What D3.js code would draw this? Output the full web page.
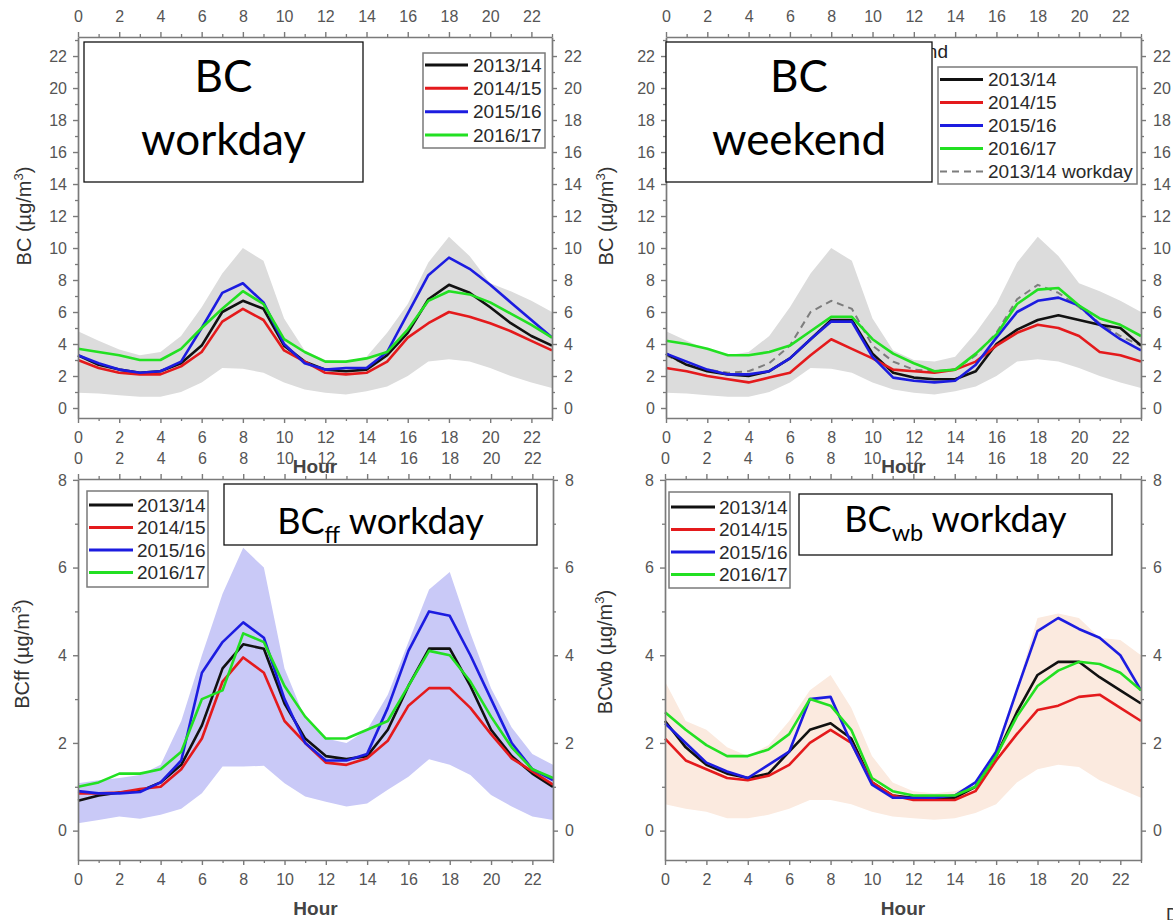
<!DOCTYPE html>
<html>
<head>
<meta charset="utf-8">
<script src="https://cdn.jsdelivr.net/npm/d3@7"></script>
<style>
  html, body { margin: 0; padding: 0; background: #fff; }
  svg { display: block; }
</style>
</head>
<body>
<svg id="fig" width="1173" height="920"></svg>
<script>
// ---- categories / ticks ----
const hours = [0,1,2,3,4,5,6,7,8,9,10,11,12,13,14,15,16,17,18,19,20,21,22,23];
const hourTicks = [0,2,4,6,8,10,12,14,16,18,20,22];
const hourMinor = [1,3,5,7,9,11,13,15,17,19,21,23];
const bcTicks = [0,2,4,6,8,10,12,14,16,18,20,22];
const bcMinor = [1,3,5,7,9,11,13,15,17,19,21,23];
const partTicks = [0,2,4,6,8];
const partMinor = [1,3,5,7];
const seasons = ["2013/14","2014/15","2015/16","2016/17"];

// ---- BC, workday (µg/m3) ----
const bcWorkday1314 = [3.3,2.7,2.4,2.2,2.3,2.8,3.9,6.0,6.7,6.2,3.9,2.9,2.4,2.3,2.4,3.3,4.7,6.8,7.7,7.2,6.3,5.3,4.5,3.9];
const bcWorkday1415 = [3.0,2.5,2.2,2.1,2.1,2.6,3.5,5.4,6.2,5.5,3.6,2.9,2.2,2.1,2.2,2.9,4.4,5.3,6.0,5.7,5.3,4.8,4.2,3.6];
const bcWorkday1516 = [3.3,2.8,2.4,2.2,2.3,2.9,5.0,7.2,7.8,6.6,4.0,2.8,2.4,2.5,2.5,3.5,5.9,8.3,9.4,8.7,7.7,6.6,5.5,4.4];
const bcWorkday1617 = [3.7,3.5,3.3,3.0,3.0,3.7,5.0,6.2,7.3,6.5,4.3,3.5,2.9,2.9,3.1,3.5,4.9,6.7,7.3,7.1,6.6,5.9,5.2,4.4];
// spread of BC (shaded range)
const bcRangeLow  = [0.95,0.9,0.8,0.7,0.7,1.0,1.6,2.5,2.45,2.2,1.6,1.15,0.95,0.85,1.05,1.35,2.0,2.9,3.05,2.9,2.5,2.0,1.6,1.25];
const bcRangeHigh = [4.8,4.2,3.65,3.3,3.5,4.5,6.3,8.4,10.0,9.2,5.6,3.6,3.0,2.9,3.2,4.7,6.5,9.1,10.7,9.5,7.8,7.3,6.7,6.0];

// ---- BC, weekend (µg/m3) ----
const bcWeekend1314 = [3.4,2.7,2.3,2.1,2.0,2.3,3.1,4.3,5.5,5.5,3.4,2.2,1.9,1.8,1.8,2.3,4.0,4.9,5.5,5.8,5.5,5.2,5.0,3.9];
const bcWeekend1415 = [2.5,2.3,2.0,1.8,1.6,1.9,2.2,3.3,4.3,3.7,3.1,2.4,2.3,2.2,2.4,2.9,3.9,4.7,5.2,5.0,4.5,3.5,3.3,2.9];
const bcWeekend1516 = [3.4,2.9,2.4,2.1,2.1,2.3,3.1,4.3,5.4,5.4,3.2,1.9,1.7,1.6,1.7,2.7,4.4,6.0,6.7,6.9,6.4,5.2,4.3,3.6];
const bcWeekend1617 = [4.2,4.0,3.7,3.3,3.3,3.5,3.9,4.8,5.7,5.7,4.3,3.4,2.8,2.3,2.4,3.4,4.6,6.5,7.4,7.5,6.4,5.6,5.2,4.5];

// ---- BCff, workday (µg/m3) ----
const ffWorkday1314 = [0.68,0.8,0.87,0.9,1.1,1.5,2.4,3.7,4.25,4.15,2.9,2.1,1.7,1.63,1.7,2.3,3.3,4.15,4.15,3.3,2.3,1.7,1.3,1.0];
const ffWorkday1415 = [0.85,0.85,0.87,0.95,1.0,1.4,2.1,3.4,3.95,3.6,2.5,2.0,1.55,1.5,1.65,2.05,2.85,3.25,3.25,2.8,2.2,1.65,1.35,1.05];
const ffWorkday1516 = [0.9,0.85,0.85,0.88,1.1,1.6,3.6,4.3,4.75,4.4,3.0,2.0,1.6,1.6,1.75,2.8,4.1,5.0,4.9,4.0,3.0,2.0,1.4,1.15];
const ffWorkday1617 = [1.0,1.1,1.3,1.3,1.4,1.8,3.0,3.2,4.5,4.3,3.3,2.6,2.1,2.1,2.3,2.5,3.3,4.1,4.0,3.4,2.6,1.9,1.4,1.2];
const ffRangeLow  = [0.17,0.24,0.32,0.27,0.36,0.5,0.85,1.46,1.46,1.48,1.08,0.78,0.66,0.55,0.62,0.93,1.23,1.63,1.5,1.27,0.81,0.55,0.32,0.24];
const ffRangeHigh = [1.08,1.15,1.2,1.27,1.5,2.5,4.0,5.4,6.45,6.0,3.7,2.55,2.1,2.0,2.3,3.1,4.3,5.5,5.9,4.5,3.25,2.35,1.75,1.5];

// ---- BCwb, workday (µg/m3) ----
const wbWorkday1314 = [2.5,1.9,1.5,1.3,1.2,1.3,1.8,2.3,2.45,2.1,1.1,0.8,0.75,0.75,0.75,1.0,1.7,2.7,3.55,3.85,3.85,3.5,3.2,2.9];
const wbWorkday1415 = [2.1,1.6,1.4,1.2,1.15,1.25,1.5,2.0,2.3,2.0,1.1,0.8,0.7,0.7,0.7,0.9,1.6,2.2,2.75,2.85,3.05,3.1,2.8,2.5];
const wbWorkday1516 = [2.45,2.0,1.55,1.35,1.2,1.5,1.8,3.0,3.05,2.0,1.05,0.75,0.75,0.75,0.8,1.1,1.8,3.2,4.55,4.85,4.6,4.4,4.0,3.2];
const wbWorkday1617 = [2.7,2.3,1.95,1.7,1.7,1.85,2.2,3.0,2.85,2.3,1.2,0.9,0.8,0.8,0.8,1.0,1.7,2.6,3.3,3.65,3.85,3.8,3.6,3.2];
const wbRangeLow  = [0.6,0.5,0.43,0.28,0.28,0.36,0.5,0.7,0.7,0.6,0.43,0.32,0.28,0.25,0.28,0.4,0.6,1.1,1.4,1.5,1.45,1.15,0.95,0.75];
const wbRangeHigh = [3.4,2.5,2.3,1.9,1.7,1.95,2.5,3.2,3.55,2.8,1.7,1.1,0.9,0.85,0.9,1.05,1.9,3.25,4.85,4.95,4.85,4.4,4.35,4.0];

// ---- styling ----
const seasonColors = ["#111111", "#e41a1c", "#1c1ce0", "#22e022"];
const AXIS_FONT = "'Liberation Sans', Arial, Helvetica, sans-serif";
const BOX_FONT = "Lato, 'Open Sans', 'Noto Sans', sans-serif";
const AXIS_COLOR = "#7a7a7a";
const LABEL_COLOR = "#555";

const svg = d3.select("#fig");

const panels = [
  {
    left: 78, right: 552, top: 37, bottom: 418,
    yDomain: [-0.625, 23.19], yTicks: bcTicks, yMinor: bcMinor,
    series: [bcWorkday1314, bcWorkday1415, bcWorkday1516, bcWorkday1617],
    rangeLow: bcRangeLow, rangeHigh: bcRangeHigh, rangeFill: "#dcdcdc",
    yTitle: "BC", yTitleX: 31, yTitleY: 216,
    xTitleY: 473,
    legend: { x0: 423, x1: 545, y0: 53, y1: 148, rows: [65, 88.3, 111.7, 135], lineX: [425, 468], textX: 473 },
    box: { x0: 84, x1: 363, y0: 42, y1: 182, lines: [["BC", 92], ["workday", 155]], size: 44 }
  },
  {
    left: 666, right: 1141, top: 37, bottom: 418,
    yDomain: [-0.625, 23.19], yTicks: bcTicks, yMinor: bcMinor,
    series: [bcWeekend1314, bcWeekend1415, bcWeekend1516, bcWeekend1617],
    reference: bcWorkday1314,
    rangeLow: bcRangeLow, rangeHigh: bcRangeHigh, rangeFill: "#dcdcdc",
    yTitle: "BC", yTitleX: 613, yTitleY: 216,
    xTitleY: 473,
    hiddenTitle: { text: "BC weekend", x: 948, y: 58 },
    legend: { x0: 938, x1: 1137, y0: 67, y1: 184, rows: [79.5, 102.5, 125.5, 148.5, 171.5], lineX: [940, 983], textX: 988 },
    box: { x0: 666, x1: 932, y0: 42, y1: 182, lines: [["BC", 92], ["weekend", 155]], size: 44 }
  },
  {
    left: 78, right: 553, top: 479, bottom: 860,
    yDomain: [-0.67, 8.02], yTicks: partTicks, yMinor: partMinor,
    series: [ffWorkday1314, ffWorkday1415, ffWorkday1516, ffWorkday1617],
    rangeLow: ffRangeLow, rangeHigh: ffRangeHigh, rangeFill: "#c9c9f7",
    yTitle: "BCff", yTitleX: 29, yTitleY: 654,
    xTitleY: 915,
    legend: { x0: 87, x1: 208, y0: 491, y1: 587, rows: [505, 527.5, 550, 572.5], lineX: [89, 133], textX: 137 },
    box: { x0: 224, x1: 537, y0: 484, y1: 545, sub: ["BC", "ff", " workday"], baseline: 534, size: 36 }
  },
  {
    left: 665, right: 1141, top: 479, bottom: 860,
    yDomain: [-0.67, 8.02], yTicks: partTicks, yMinor: partMinor,
    series: [wbWorkday1314, wbWorkday1415, wbWorkday1516, wbWorkday1617],
    rangeLow: wbRangeLow, rangeHigh: wbRangeHigh, rangeFill: "#fbeadf",
    yTitle: "BCwb", yTitleX: 612, yTitleY: 652,
    xTitleY: 915,
    legend: { x0: 669, x1: 790, y0: 492, y1: 588, rows: [507, 529.5, 552, 574.5], lineX: [671, 715], textX: 719 },
    box: { x0: 799, x1: 1112, y0: 494, y1: 555, sub: ["BC", "wb", " workday"], baseline: 532, size: 36 }
  }
];

function styleAxis(sel) {
  sel.selectAll(".domain").attr("stroke", AXIS_COLOR).attr("stroke-width", 1.7);
  sel.selectAll(".tick line").attr("stroke", AXIS_COLOR).attr("stroke-width", 1.4);
  sel.selectAll(".tick text")
    .attr("fill", LABEL_COLOR)
    .attr("font-family", AXIS_FONT)
    .attr("font-size", 16);
}

function minorAxis(g, gen) {
  g.call(gen.tickSize(3).tickFormat("").tickSizeOuter(0));
  g.select(".domain").remove();
  g.selectAll(".tick line").attr("stroke", AXIS_COLOR).attr("stroke-width", 1.3);
}

function drawPanel(p) {
  const g = svg.append("g");
  const x = d3.scaleLinear().domain([0, 23]).range([p.left, p.right]);
  const y = d3.scaleLinear().domain(p.yDomain).range([p.bottom, p.top]);

  // shaded range
  const area = d3.area()
    .x(h => x(h))
    .y0((h, i) => y(p.rangeLow[i]))
    .y1((h, i) => y(p.rangeHigh[i]));
  g.append("path").datum(hours).attr("d", area).attr("fill", p.rangeFill);

  // workday reference (dashed)
  if (p.reference) {
    const refLine = d3.line().x(h => x(h)).y((h, i) => y(p.reference[i]));
    g.append("path").datum(hours).attr("d", refLine)
      .attr("fill", "none").attr("stroke", "#7d7d7d")
      .attr("stroke-width", 2).attr("stroke-dasharray", "7,5");
  }

  // seasonal diurnal lines
  p.series.forEach((vals, k) => {
    const line = d3.line().x(h => x(h)).y((h, i) => y(vals[i]));
    g.append("path").datum(hours).attr("d", line)
      .attr("fill", "none").attr("stroke", seasonColors[k])
      .attr("stroke-width", 2.6).attr("stroke-linejoin", "round");
  });

  // axes: major ticks with labels on all four sides, minor ticks between
  const bottomAx = g.append("g").attr("transform", `translate(0,${p.bottom})`);
  minorAxis(bottomAx.append("g"), d3.axisBottom(x).tickValues(hourMinor));
  bottomAx.append("g").call(d3.axisBottom(x).tickValues(hourTicks).tickSize(5).tickSizeOuter(0).tickPadding(9)).call(styleAxis);

  const topAx = g.append("g").attr("transform", `translate(0,${p.top})`);
  minorAxis(topAx.append("g"), d3.axisTop(x).tickValues(hourMinor));
  topAx.append("g").call(d3.axisTop(x).tickValues(hourTicks).tickSize(5).tickSizeOuter(0).tickPadding(10)).call(styleAxis);

  const leftAx = g.append("g").attr("transform", `translate(${p.left},0)`);
  minorAxis(leftAx.append("g"), d3.axisLeft(y).tickValues(p.yMinor));
  leftAx.append("g").call(d3.axisLeft(y).tickValues(p.yTicks).tickSize(5).tickSizeOuter(0).tickPadding(6)).call(styleAxis);

  const rightAx = g.append("g").attr("transform", `translate(${p.right},0)`);
  minorAxis(rightAx.append("g"), d3.axisRight(y).tickValues(p.yMinor));
  rightAx.append("g").call(d3.axisRight(y).tickValues(p.yTicks).tickSize(5).tickSizeOuter(0).tickPadding(7)).call(styleAxis);

  // y title with superscript
  const yt = g.append("text")
    .attr("transform", `translate(${p.yTitleX},${p.yTitleY}) rotate(-90)`)
    .attr("text-anchor", "middle")
    .attr("font-family", AXIS_FONT).attr("font-size", 20).attr("fill", "#333");
  yt.append("tspan").text(p.yTitle + " (µg/m");
  yt.append("tspan").attr("font-size", 13).attr("dy", -8).text("3");
  yt.append("tspan").attr("dy", 8).text(")");

  // x title
  g.append("text")
    .attr("x", (p.left + p.right) / 2).attr("y", p.xTitleY)
    .attr("text-anchor", "middle")
    .attr("font-family", AXIS_FONT).attr("font-size", 19).attr("font-weight", "bold")
    .attr("fill", "#444").text("Hour");

  // original panel title, mostly covered by the annotation box
  if (p.hiddenTitle) {
    g.append("text").attr("x", p.hiddenTitle.x).attr("y", p.hiddenTitle.y)
      .attr("text-anchor", "end").attr("font-family", AXIS_FONT)
      .attr("font-size", 19).attr("fill", "#222").text(p.hiddenTitle.text);
  }

  // legend
  const L = p.legend;
  g.append("rect").attr("x", L.x0).attr("y", L.y0)
    .attr("width", L.x1 - L.x0).attr("height", L.y1 - L.y0)
    .attr("fill", "#fff").attr("stroke", "#7a7a7a").attr("stroke-width", 1.5);
  const entries = seasons.map((s, k) => ({ label: s, color: seasonColors[k], dash: null }));
  if (p.reference) entries.push({ label: "2013/14 workday", color: "#7d7d7d", dash: "7,5" });
  entries.forEach((e, k) => {
    g.append("line").attr("x1", L.lineX[0]).attr("x2", L.lineX[1])
      .attr("y1", L.rows[k]).attr("y2", L.rows[k])
      .attr("stroke", e.color).attr("stroke-width", e.dash ? 2 : 3)
      .attr("stroke-dasharray", e.dash);
    g.append("text").attr("x", L.textX).attr("y", L.rows[k])
      .attr("dominant-baseline", "central")
      .attr("font-family", AXIS_FONT).attr("font-size", 19).attr("fill", "#2a2a2a")
      .text(e.label);
  });

  // annotation box
  const B = p.box;
  g.append("rect").attr("x", B.x0).attr("y", B.y0)
    .attr("width", B.x1 - B.x0).attr("height", B.y1 - B.y0)
    .attr("fill", "#fff").attr("stroke", "#111").attr("stroke-width", 1.3);
  const cx = (B.x0 + B.x1) / 2;
  if (B.lines) {
    B.lines.forEach(([t, yy]) => {
      g.append("text").attr("x", cx).attr("y", yy).attr("text-anchor", "middle")
        .attr("font-family", BOX_FONT).attr("font-size", B.size).attr("fill", "#000").text(t);
    });
  } else {
    const t = g.append("text").attr("x", cx).attr("y", B.baseline).attr("text-anchor", "middle")
      .attr("font-family", BOX_FONT).attr("font-size", B.size).attr("fill", "#000");
    t.append("tspan").text(B.sub[0]);
    t.append("tspan").attr("font-size", B.size * 0.65).attr("dy", 9).text(B.sub[1]);
    t.append("tspan").attr("dy", -9).text(B.sub[2]);
  }
}

panels.forEach(drawPanel);

// stray glyph at the lower-right edge of the figure
svg.append("text").attr("x", 1166).attr("y", 921)
  .attr("font-family", AXIS_FONT).attr("font-size", 18).attr("fill", "#333").text("D");
</script>
</body>
</html>
